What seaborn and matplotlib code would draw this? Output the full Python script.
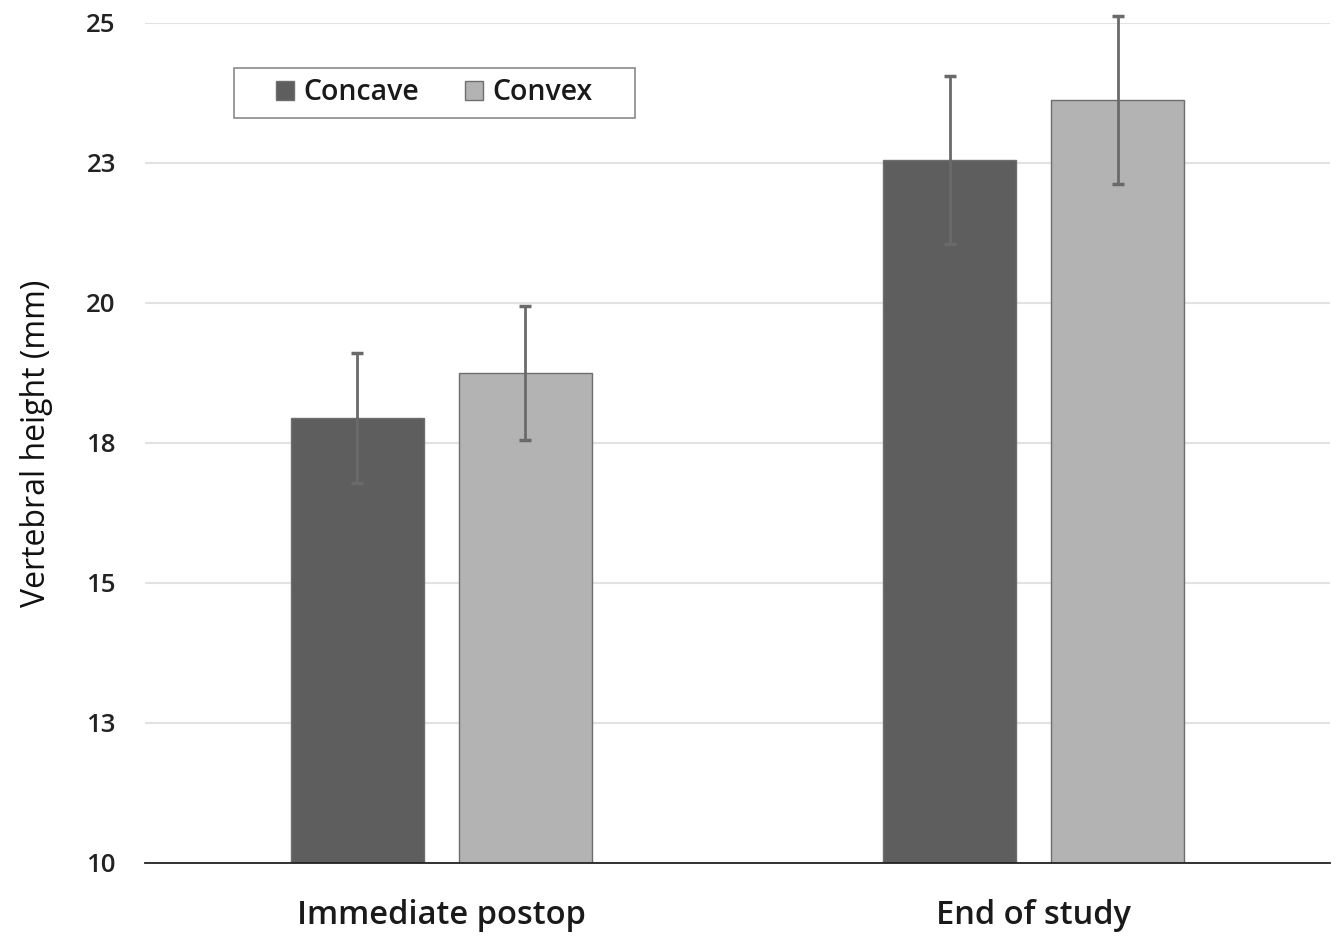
import matplotlib
matplotlib.use("Agg")
import matplotlib.pyplot as plt
from matplotlib.patches import Rectangle
import seaborn as sns
import pandas as pd

# Data
categories = ["Immediate postop", "End of study"]
groups = ["Concave", "Convex"]
concave_mean = [17.95, 22.55]
convex_mean = [18.75, 23.63]
concave_err = [1.16, 1.5]
convex_err = [1.19, 1.5]
ytick_values = [10, 12.5, 15, 17.5, 20, 22.5, 25]
ytick_labels = ["10", "13", "15", "18", "20", "23", "25"]

colors = {"Concave": "#5e5e5e", "Convex": "#b3b3b3"}

df = pd.DataFrame({
    "period": categories * 2,
    "side": ["Concave"] * 2 + ["Convex"] * 2,
    "height": concave_mean + convex_mean,
    "err": concave_err + convex_err,
})

sns.set_theme(style="white")
plt.rcParams["font.family"] = ["Open Sans", "DejaVu Sans"]

fig = plt.figure(figsize=(13.41, 9.38), dpi=100)
ax = fig.add_axes([0.1081, 0.080, 0.8837, 0.8955])

sns.barplot(data=df, x="period", y="height", hue="side", order=categories,
            hue_order=groups, palette=colors, width=0.567, gap=0.206,
            edgecolor="#6e6e6e", linewidth=1.0, errorbar=None, ax=ax,
            saturation=1, zorder=2)

# Error bars centred on each bar
for container, side in zip(ax.containers, groups):
    sub = df[df["side"] == side].set_index("period").loc[categories]
    xs = [p.get_x() + p.get_width() / 2 for p in container.patches]
    eb = ax.errorbar(xs, sub["height"].values, yerr=sub["err"].values,
                     fmt="none", ecolor="#6a6a6a", elinewidth=2, capsize=4.5,
                     capthick=2.5, zorder=3)
    for art in eb.lines[1] + eb.lines[2]:
        art.set_clip_on(False)

ax.set_ylim(10, 25)
ax.set_xlim(-0.5, 1.5)
ax.set_yticks(ytick_values)
ax.set_yticklabels(ytick_labels)
ax.yaxis.grid(True, color="#e2e2e2", linewidth=1.5, zorder=0)
ax.set_axisbelow(True)
for s in ["top", "right", "left"]:
    ax.spines[s].set_visible(False)
ax.spines["bottom"].set_color("#222222")
ax.spines["bottom"].set_linewidth(1.3)
ax.tick_params(axis="y", length=0, pad=21, labelsize=18.5)
ax.tick_params(axis="x", length=0, pad=26, labelsize=23.5)
for t in ax.get_yticklabels():
    t.set_fontweight("semibold")
    t.set_color("#222222")
for t in ax.get_xticklabels():
    t.set_fontweight("semibold")
    t.set_color("#1a1a1a")

ax.set_xlabel("")
ax.set_ylabel("Vertebral height (mm)", fontsize=23, color="#111111",
              labelpad=24)

# Legend frame drawn as a box, entries centred inside it
ax.add_patch(Rectangle((0.0751, 0.8869), 0.3384, 0.0595, transform=ax.transAxes,
                       facecolor="white", edgecolor="#8a8a8a", linewidth=1.2,
                       zorder=4, clip_on=False))
leg = ax.legend(loc="center", bbox_to_anchor=(0.2443, 0.9167), ncol=2,
                frameon=False, fontsize=20.5, handlelength=0.62,
                handleheight=0.62, columnspacing=1.6, handletextpad=0.35,
                borderaxespad=0)
leg.set_zorder(5)
leg.set_title(None)
for txt in leg.get_texts():
    txt.set_fontweight("semibold")
    txt.set_color("#1a1a1a")

fig.savefig("out.png", dpi=100, facecolor="white")
